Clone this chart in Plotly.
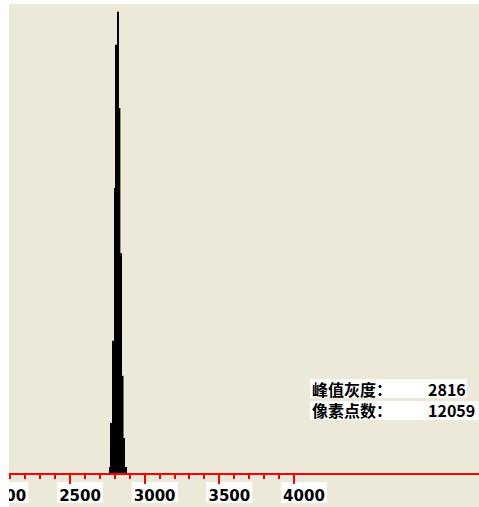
import plotly.graph_objects as go

# ---- data ----
gray_levels = [2768, 2779, 2789, 2800, 2810, 2821, 2832, 2842, 2853, 2863, 2874]
pixel_counts = [35, 290, 765, 1647, 2476, 2667, 2110, 1270, 562, 203, 35]
bin_width = 10.6
major_ticks = [2000, 2500, 3000, 3500, 4000]
major_labels = ["2000", "2500", "3000", "3500", "4000"]
minor_ticks = [2100, 2200, 2300, 2400, 2600, 2700, 2800, 2900, 3100, 3200, 3300, 3400,
               3600, 3700, 3800, 3900]
info_labels = ["峰值灰度：", "像素点数："]
info_values = ["2816", "12059"]

# ---- layout constants ----
W, H = 479, 507
LEFT_STRIP = 9
TOP = 4
BOTTOM = 34
x_range = [2091.5, 5239.0]
y_range = [0, 2711.5]
BG = "#ECE9D8"
RED = "#FF0000"
LABEL_SHIFT = 10  # px, labels sit to the right of their tick

plot_w = W - LEFT_STRIP
scale = plot_w / (x_range[1] - x_range[0])  # px per unit
x2_range = [x_range[0] - (LEFT_STRIP + LABEL_SHIFT) / scale,
            x_range[1] - LABEL_SHIFT / scale]

fig = go.Figure()
fig.add_trace(go.Bar(x=gray_levels, y=pixel_counts, width=bin_width,
                     marker=dict(color="black", line=dict(width=0)),
                     hoverinfo="skip", showlegend=False))
# empty trace so that the label-only axis (x2) is drawn
fig.add_trace(go.Scatter(x=[None], y=[None], xaxis="x2", yaxis="y", mode="markers",
                         hoverinfo="skip", showlegend=False))

shapes = []
# white boxes behind tick labels
for v in major_ticks:
    shapes.append(dict(type="rect", xref="x", xsizemode="pixel", xanchor=v, x0=-13, x1=33,
                       yref="paper", ysizemode="pixel", yanchor=0, y0=-30, y1=-9,
                       fillcolor="white", line=dict(width=0), layer="below"))
# white boxes behind the info text
shapes.append(dict(type="rect", xref="paper", xsizemode="pixel", xanchor=0, x0=310, x1=467,
                   yref="paper", ysizemode="pixel", yanchor=0, y0=75, y1=94,
                   fillcolor="white", line=dict(width=0), layer="above"))
shapes.append(dict(type="rect", xref="paper", xsizemode="pixel", xanchor=0, x0=310, x1=480,
                   yref="paper", ysizemode="pixel", yanchor=0, y0=53, y1=72,
                   fillcolor="white", line=dict(width=0), layer="above"))
# white frame strips (left and top)
shapes.append(dict(type="rect", xref="paper", xsizemode="pixel", xanchor=0, x0=0, x1=LEFT_STRIP,
                   yref="paper", y0=-0.2, y1=1.1,
                   fillcolor="white", line=dict(width=0), layer="above"))
shapes.append(dict(type="rect", xref="paper", x0=-0.05, x1=1.05,
                   yref="paper", ysizemode="pixel", yanchor=1, y0=0, y1=TOP + 1,
                   fillcolor="white", line=dict(width=0), layer="above"))

cjk = "Noto Sans CJK SC"
info_font = dict(family=cjk, size=16, color="black", weight="bold")
annotations = [
    dict(text="<br>".join(info_labels), xref="paper", yref="paper", x=0, y=0,
         xanchor="left", yanchor="middle", align="left",
         xshift=311, yshift=(H - BOTTOM) - 399.5,
         showarrow=False, borderpad=0, font=info_font),
    dict(text="<br>".join(info_values), xref="paper", yref="paper", x=0, y=0,
         xanchor="left", yanchor="middle", align="left",
         xshift=427, yshift=(H - BOTTOM) - 399.5,
         showarrow=False, borderpad=0, font=info_font),
]

fig.update_layout(
    width=W, height=H,
    margin=dict(l=0, r=0, t=TOP, b=BOTTOM, pad=0, autoexpand=False),
    paper_bgcolor=BG, plot_bgcolor="rgba(0,0,0,0)",
    showlegend=False,
    xaxis=dict(domain=[LEFT_STRIP / W, 1], range=x_range, showgrid=False, zeroline=False,
               showline=True, linecolor=RED, linewidth=2,
               ticks="outside", tickvals=major_ticks, ticklen=9, tickwidth=2, tickcolor=RED,
               showticklabels=False, automargin=False,
               minor=dict(tickvals=minor_ticks, ticks="outside", ticklen=4, tickwidth=2,
                          tickcolor=RED, showgrid=False),
               layer="below traces", fixedrange=True),
    xaxis2=dict(domain=[0, 1], range=x2_range, anchor="y", showgrid=False, zeroline=False,
                showline=False, ticks="", tickvals=major_ticks, ticktext=major_labels,
                tickfont=dict(family="DejaVu Sans", size=15, color="black", weight="bold"),
                ticklabelstandoff=12, ticklabeloverflow="allow", automargin=False,
                fixedrange=True),
    yaxis=dict(range=y_range, visible=False, fixedrange=True, automargin=False),
    shapes=shapes,
    annotations=annotations,
)

fig.write_html("out.html")
